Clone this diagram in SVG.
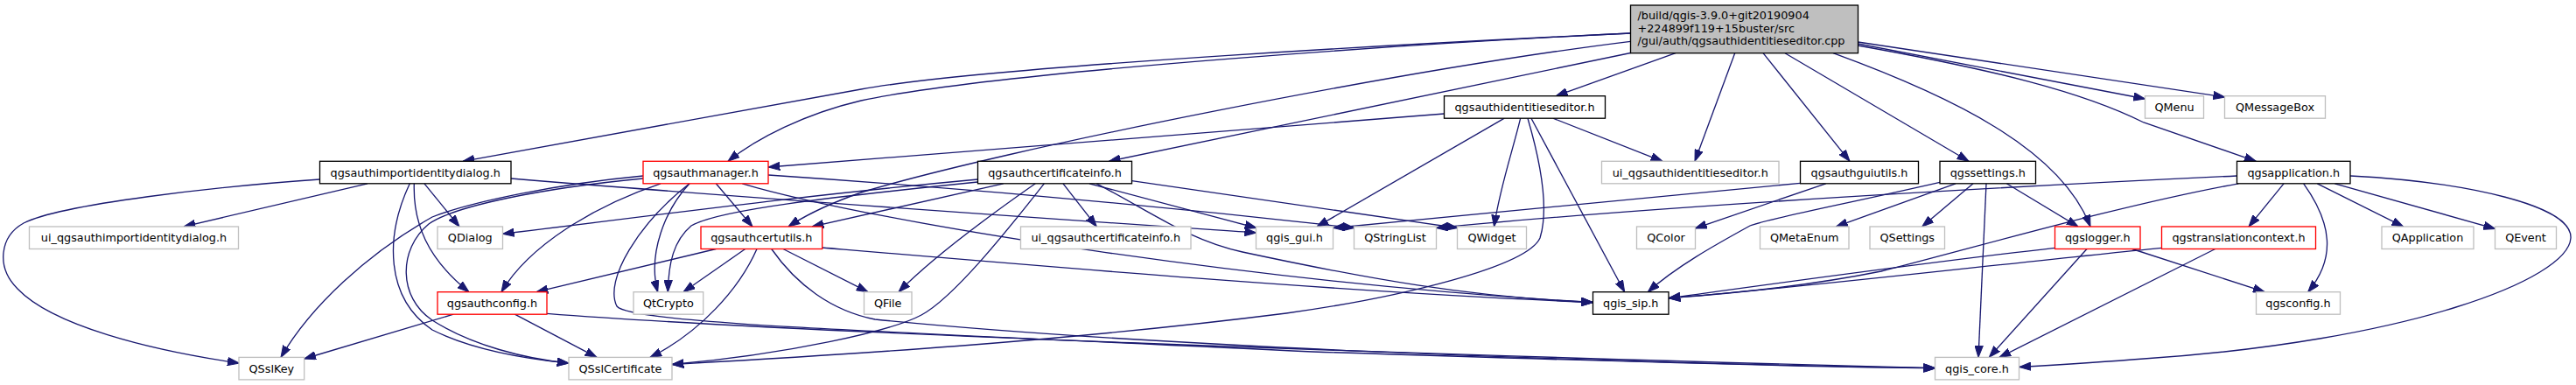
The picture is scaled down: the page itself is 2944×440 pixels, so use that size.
<svg xmlns="http://www.w3.org/2000/svg" width="2944" height="440" viewBox="0 0 2944 440">
<style>
.n rect{stroke-width:1.33}
.b rect{fill:#fff;stroke:#000}
.g rect{fill:#fff;stroke:#bfbfbf}
.r rect{fill:#fff;stroke:#ff0000}
text{font-family:"DejaVu Sans","Liberation Sans",sans-serif;font-size:12.8px;fill:#000;text-anchor:middle}
#edges path{fill:none;stroke:#191970;stroke-width:1.33;marker-end:url(#arr)}
</style>
<defs>
<marker id="arr" markerUnits="userSpaceOnUse" viewBox="0 0 13.4 10" markerWidth="13.4" markerHeight="10" refX="13.3" refY="5" orient="auto">
<path d="M0,0.33 L13.33,5 L0,9.67 z" fill="#191970" stroke="#191970" stroke-width="1"/>
</marker>
</defs>
<rect width="2944" height="440" fill="#fff"/>
<g id="edges">
<path d="M1915,60.7 L1778.3,109.7"/>
<path d="M1863.5,38 C1650,48 1134,75 984,102 L529,184.3"/>
<path d="M1863.5,38 C1650,48 1150,80 984,115 C920,130 865,158 832,184.3"/>
<path d="M1863.5,47.3 C1600,80 1150,170 984,220 C950,232 922,245 901,259"/>
<path d="M1863.5,60.5 L1267.3,184.3"/>
<path d="M1982.7,60.7 L1937,184.3"/>
<path d="M2015,60.7 L2114,184.3"/>
<path d="M2040,60.7 L2250,184.3"/>
<path d="M2095,60.7 C2230,110 2355,170 2389,259"/>
<path d="M2123.3,50 L2451.7,113"/>
<path d="M2123.3,48 L2542.7,111"/>
<path d="M2123.3,52 C2280,80 2380,105 2450,140 L2578.3,184.3"/>
<path d="M1650.5,130 L878,191"/>
<path d="M1775,135.2 L1900,184.3"/>
<path d="M1719.3,135.2 L1505,259"/>
<path d="M1737.7,135.2 C1728,175 1714,215 1707.5,259"/>
<path d="M1746,135.2 C1762,190 1770,240 1760,272 C1745,305 1600,340 1470,358 C1200,392 950,406 768,416.5"/>
<path d="M1750,135.2 L1856.7,333.7"/>
<path d="M420,209.8 L210,259"/>
<path d="M365.5,205 C250,213 70,233 27,255 C0,270 -5,305 20,330 C60,372 170,400 273.3,415"/>
<path d="M468.3,209.8 C440,270 440,340 494,377 C540,400 600,410 650,415"/>
<path d="M473.3,209.8 C472,255 488,295 536,333.7"/>
<path d="M485,209.8 L525,259"/>
<path d="M584,204 C900,230 1200,250 1435.7,266"/>
<path d="M735,201 C640,210 540,230 494,248 C420,290 355,350 321,408.4"/>
<path d="M735,204 C620,215 520,235 490,256 C455,285 455,340 494,366 C540,395 600,410 650,415"/>
<path d="M755,209.8 C680,235 605,280 573,333.7"/>
<path d="M788,209.8 C760,240 740,290 751.7,333.7"/>
<path d="M788,209.8 C730,255 690,320 705,350 C720,370 1000,378 1500,402 C1900,415 2100,420 2211.7,420.7"/>
<path d="M818.3,209.8 L860,259"/>
<path d="M878,200 C1100,215 1350,238 1547.7,260.5"/>
<path d="M848.3,209.8 C1000,255 1450,325 1820.5,345.5"/>
<path d="M1117.5,205 C900,225 720,250 574.3,267.3"/>
<path d="M1117.5,208 C950,225 820,240 790,258 C770,275 764,300 763.3,333.7"/>
<path d="M1146.7,209.8 L928,259"/>
<path d="M1183.3,209.8 C1140,240 1070,290 1027,333.7"/>
<path d="M1193.3,209.8 C1150,265 1090,340 1053,360 C1020,378 900,405 768,416.5"/>
<path d="M1215,209.8 L1253.3,259"/>
<path d="M1245,209.8 L1436,260.5"/>
<path d="M1253.3,209.8 C1320,245 1360,275 1420,288 C1560,318 1680,340 1820.5,345.5"/>
<path d="M1293.5,206.7 L1665.7,260.5"/>
<path d="M818.3,284.5 L613,333.7"/>
<path d="M851.7,284.5 L781,333.7"/>
<path d="M865,284.5 C845,330 800,380 743,408.4"/>
<path d="M881.7,284.5 C910,325 950,355 1000,365 C1300,395 1800,414 2211.7,420.7"/>
<path d="M895,284.5 L992,333.7"/>
<path d="M939.7,283 C1200,305 1550,335 1820.5,345.5"/>
<path d="M518.3,359.2 L347.7,410"/>
<path d="M588.3,359.2 L682,408.4"/>
<path d="M625,358.3 C900,380 1600,405 2211.7,420.7"/>
<path d="M2057.5,209.3 L1523.7,260.5"/>
<path d="M2086.7,209.8 L1937.3,261"/>
<path d="M2217,208.3 C2100,235 2020,250 2000,258 C1960,280 1915,305 1883.3,333.7"/>
<path d="M2235,209.8 L2098.3,259"/>
<path d="M2255,209.8 L2196.7,259"/>
<path d="M2270,209.8 L2261,408.4"/>
<path d="M2293.3,209.8 L2375,259"/>
<path d="M2556.5,201 C2300,213 1900,235 1641.3,260.5"/>
<path d="M2558.3,209.8 C2420,235 2250,285 2150,310 C2050,330 1960,337 1907,340.7"/>
<path d="M2610,209.8 L2570,259"/>
<path d="M2632.7,209.8 C2665,255 2670,295 2637.7,333.7"/>
<path d="M2648.3,209.8 L2746.7,259"/>
<path d="M2668.3,209.8 L2851.7,261.5"/>
<path d="M2686,201 C2820,208 2940,235 2938,272 C2935,320 2750,390 2450,410 C2400,414 2350,417 2307.7,419.5"/>
<path d="M2348.5,283.3 C2200,300 2000,328 1907,340.7"/>
<path d="M2385,284.5 L2273.3,408.4"/>
<path d="M2436.7,284.5 L2588.3,333.7"/>
<path d="M2470.5,283.3 C2300,300 2050,330 1907,340.7"/>
<path d="M2531.7,284.5 L2285,408.4"/>
</g>
<g id="root" class="n b"><rect x="1863.5" y="6" width="260" height="54.7" style="fill:#bfbfbf"/>
<text x="1871.5" y="22.2" style="text-anchor:start">/build/qgis-3.9.0+git20190904</text>
<text x="1871.5" y="36.8" style="text-anchor:start">+224899f119+15buster/src</text>
<text x="1871.5" y="51.4" style="text-anchor:start">/gui/auth/qgsauthidentitieseditor.cpp</text></g>
<g id="n_identitieseditor" class="n b"><rect x="1650.5" y="109.7" width="184" height="25.5"/><text x="1742.5" y="127">qgsauthidentitieseditor.h</text></g>
<g id="n_qmenu" class="n g"><rect x="2451.5" y="109.7" width="67" height="25.5"/><text x="2485" y="127">QMenu</text></g>
<g id="n_qmessagebox" class="n g"><rect x="2542.5" y="109.7" width="115" height="25.5"/><text x="2600" y="127">QMessageBox</text></g>
<g id="n_importdialog" class="n b"><rect x="365.5" y="184.3" width="218.5" height="25.5"/><text x="474.75" y="201.6">qgsauthimportidentitydialog.h</text></g>
<g id="n_manager" class="n r"><rect x="735" y="184.3" width="143" height="25.5"/><text x="806.5" y="201.6">qgsauthmanager.h</text></g>
<g id="n_certinfo" class="n b"><rect x="1117.5" y="184.3" width="176" height="25.5"/><text x="1205.5" y="201.6">qgsauthcertificateinfo.h</text></g>
<g id="n_ui_identitieseditor" class="n g"><rect x="1830.5" y="184.3" width="202.5" height="25.5"/><text x="1931.75" y="201.6">ui_qgsauthidentitieseditor.h</text></g>
<g id="n_guiutils" class="n b"><rect x="2057.5" y="184.3" width="135" height="25.5"/><text x="2125" y="201.6">qgsauthguiutils.h</text></g>
<g id="n_settings" class="n b"><rect x="2217" y="184.3" width="109.5" height="25.5"/><text x="2271.75" y="201.6">qgssettings.h</text></g>
<g id="n_application" class="n b"><rect x="2556.5" y="184.3" width="129.5" height="25.5"/><text x="2621.25" y="201.6">qgsapplication.h</text></g>
<g id="n_ui_importdialog" class="n g"><rect x="33.5" y="259" width="239" height="25.5"/><text x="153" y="276.3">ui_qgsauthimportidentitydialog.h</text></g>
<g id="n_qdialog" class="n g"><rect x="500" y="259" width="74.5" height="25.5"/><text x="537.25" y="276.3">QDialog</text></g>
<g id="n_certutils" class="n r"><rect x="801" y="259" width="138.7" height="25.5"/><text x="870.35" y="276.3">qgsauthcertutils.h</text></g>
<g id="n_ui_certinfo" class="n g"><rect x="1166.5" y="259" width="194.5" height="25.5"/><text x="1263.75" y="276.3">ui_qgsauthcertificateinfo.h</text></g>
<g id="n_qgis_gui" class="n g"><rect x="1435.5" y="259" width="88" height="25.5"/><text x="1479.5" y="276.3">qgis_gui.h</text></g>
<g id="n_qstringlist" class="n g"><rect x="1547.5" y="259" width="94" height="25.5"/><text x="1594.5" y="276.3">QStringList</text></g>
<g id="n_qwidget" class="n g"><rect x="1665.5" y="259" width="79" height="25.5"/><text x="1705" y="276.3">QWidget</text></g>
<g id="n_qcolor" class="n g"><rect x="1870.5" y="259" width="67" height="25.5"/><text x="1904" y="276.3">QColor</text></g>
<g id="n_qmetaenum" class="n g"><rect x="2011.5" y="259" width="101.5" height="25.5"/><text x="2062.25" y="276.3">QMetaEnum</text></g>
<g id="n_qsettings" class="n g"><rect x="2137" y="259" width="85.5" height="25.5"/><text x="2179.75" y="276.3">QSettings</text></g>
<g id="n_logger" class="n r"><rect x="2348.5" y="259" width="97.5" height="25.5"/><text x="2397.25" y="276.3">qgslogger.h</text></g>
<g id="n_translationcontext" class="n r"><rect x="2470.5" y="259" width="176" height="25.5"/><text x="2558.5" y="276.3">qgstranslationcontext.h</text></g>
<g id="n_qapplication" class="n g"><rect x="2722" y="259" width="105" height="25.5"/><text x="2774.5" y="276.3">QApplication</text></g>
<g id="n_qevent" class="n g"><rect x="2851.5" y="259" width="70" height="25.5"/><text x="2886.5" y="276.3">QEvent</text></g>
<g id="n_authconfig" class="n r"><rect x="500" y="333.7" width="125" height="25.5"/><text x="562.5" y="351">qgsauthconfig.h</text></g>
<g id="n_qtcrypto" class="n g"><rect x="724" y="333.7" width="79.7" height="25.5"/><text x="763.85" y="351">QtCrypto</text></g>
<g id="n_qfile" class="n g"><rect x="987.5" y="333.7" width="54.5" height="25.5"/><text x="1014.75" y="351">QFile</text></g>
<g id="n_qgis_sip" class="n b"><rect x="1820.5" y="333.7" width="86.5" height="25.5"/><text x="1863.75" y="351">qgis_sip.h</text></g>
<g id="n_qgsconfig" class="n g"><rect x="2578.5" y="333.7" width="96" height="25.5"/><text x="2626.5" y="351">qgsconfig.h</text></g>
<g id="n_qsslkey" class="n g"><rect x="273" y="408.4" width="74.7" height="25.5"/><text x="310.35" y="425.7">QSslKey</text></g>
<g id="n_qsslcertificate" class="n g"><rect x="650" y="408.4" width="118" height="25.5"/><text x="709" y="425.7">QSslCertificate</text></g>
<g id="n_qgis_core" class="n g"><rect x="2211.5" y="408.4" width="96" height="25.5"/><text x="2259.5" y="425.7">qgis_core.h</text></g>
</svg>
